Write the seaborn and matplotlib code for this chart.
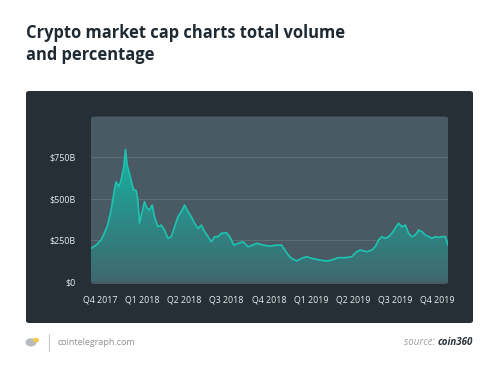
import numpy as np
import pandas as pd
import matplotlib.pyplot as plt
import seaborn as sns
from matplotlib.patches import FancyBboxPatch, Circle
from matplotlib.colors import LinearSegmentedColormap

# =========================
# DATA
# =========================

# x position in quarters, 0 = "Q4 2017" tick
quarter_pos = [
    -0.215, -0.096, 0.023, 0.102, 0.181, 0.261, 0.340, 0.380, 0.443, 0.498,
    0.562, 0.601, 0.641, 0.696, 0.752, 0.799, 0.855, 0.894, 0.934, 0.989,
    1.053, 1.108, 1.172, 1.235, 1.290, 1.370, 1.449, 1.528, 1.607, 1.687,
    1.766, 1.845, 1.924, 2.003, 2.083, 2.162, 2.241, 2.320, 2.400, 2.479,
    2.558, 2.637, 2.716, 2.796, 2.875, 2.994, 3.073, 3.168, 3.271, 3.390,
    3.509, 3.611, 3.707, 3.865, 4.023, 4.182, 4.301, 4.380, 4.459, 4.538,
    4.657, 4.776, 4.895, 5.014, 5.132, 5.291, 5.410, 5.529, 5.648, 5.806,
    5.964, 6.083, 6.163, 6.321, 6.440, 6.519, 6.598, 6.677, 6.756, 6.836,
    6.915, 6.994, 7.073, 7.152, 7.232, 7.311, 7.390, 7.470, 7.549, 7.628,
    7.707, 7.786, 7.866, 7.945, 8.024, 8.103, 8.182, 8.245,
]

# total market cap, billions of USD
market_cap = [
    200, 220, 250, 293, 341, 432, 553, 603, 572, 613,
    693, 798, 703, 653, 593, 553, 550, 492, 353, 413,
    482, 444, 432, 462, 391, 331, 341, 311, 261, 271,
    331, 391, 422, 462, 422, 391, 352, 321, 341, 301,
    271, 240, 271, 271, 291, 295, 271, 220, 231, 240,
    210, 220, 231, 220, 214, 220, 220, 190, 160, 140,
    124, 140, 150, 140, 134, 126, 124, 134, 144, 144,
    150, 180, 190, 180, 190, 210, 250, 271, 261, 271,
    291, 321, 352, 331, 341, 291, 271, 281, 311, 301,
    281, 271, 261, 271, 266, 271, 271, 220,
]

quarter_labels = ["Q4 2017", "Q1 2018", "Q2 2018", "Q3 2018", "Q4 2018",
                  "Q1 2019", "Q2 2019", "Q3 2019", "Q4 2019"]
y_ticks = [0, 250, 500, 750]
y_labels = ["$0", "$250B", "$500B", "$750B"]

df = pd.DataFrame({"quarter": quarter_pos, "cap": market_cap})

# =========================
# STYLE
# =========================

sns.set_theme(style="dark")
plt.rcParams["font.family"] = ["Open Sans", "DejaVu Sans"]

PANEL = "#252f35"
PLOT_BG = "#4a5a65"
LINE = "#1cc4b1"
TEXT = "#e8ecee"

fig = plt.figure(figsize=(5, 3.73), dpi=100)
fig.patch.set_facecolor("white")

# dark panel behind the chart
panel = FancyBboxPatch((0.052, 0.134), 0.894, 0.622,
                       boxstyle="round,pad=0,rounding_size=0.006",
                       transform=fig.transFigure, facecolor=PANEL,
                       edgecolor="none", zorder=-5)
fig.patches.append(panel)

ax = fig.add_axes([0.182, 0.2386, 0.714, 0.4491])
ax.set_zorder(2)
ax.set_facecolor("none")
ax.add_patch(FancyBboxPatch((0, 0), 1, 1,
                            boxstyle="round,pad=0,rounding_size=0.012",
                            transform=ax.transAxes, facecolor=PLOT_BG,
                            edgecolor="none", zorder=0, clip_on=False))

# grid lines
for v in y_ticks[1:]:
    ax.axhline(v, color="#5f6f7a", lw=0.7, zorder=1)

# gradient area under the curve
xmin, xmax = -0.215, 8.245
poly = ax.fill_between(df["quarter"], df["cap"], 0, color="none", lw=0)
cmap = LinearSegmentedColormap.from_list("g", ["#3f6870", "#2b8c87", "#14b5a3"])
grad = np.linspace(0, 1, 256).reshape(-1, 1)
im = ax.imshow(grad, extent=[xmin, xmax, 0, max(market_cap)], origin="lower",
               aspect="auto", cmap=cmap, zorder=2)
im.set_clip_path(poly.get_paths()[0], transform=ax.transData)

sns.lineplot(data=df, x="quarter", y="cap", color=LINE, lw=1.2, ax=ax, zorder=3)

ax.set_xlim(xmin, xmax)
ax.set_ylim(-15, 997)
ax.set_xticks(range(len(quarter_labels)))
ax.set_xticklabels(quarter_labels)
ax.set_yticks(y_ticks)
ax.set_yticklabels(y_labels)
ax.tick_params(axis="both", colors=TEXT, labelsize=6.4, length=0)
ax.tick_params(axis="y", pad=11)
ax.tick_params(axis="x", pad=8)
ax.set_xlabel("")
ax.set_ylabel("")
ax.grid(False)
for s in ax.spines.values():
    s.set_visible(False)

# =========================
# TITLE AND FOOTER
# =========================

fig.text(0.052, 0.898, "Crypto market cap charts total volume",
         fontsize=11.9, fontweight="bold", color="#1f2a32", va="baseline")
fig.text(0.052, 0.839, "and percentage",
         fontsize=11.9, fontweight="bold", color="#1f2a32", va="baseline")

fig.patches.append(Circle((0.062, 0.082), 0.011, transform=fig.transFigure,
                          facecolor="#b8bcc0", edgecolor="none"))
fig.patches.append(Circle((0.072, 0.088), 0.006, transform=fig.transFigure,
                          facecolor="#f2c744", edgecolor="none"))
fig.lines.append(plt.Line2D([0.098, 0.098], [0.06, 0.105],
                            transform=fig.transFigure, color="#c4c8cb", lw=0.8))
fig.text(0.116, 0.082, "cointelegraph.com", fontsize=6.5, color="#8a9095",
         va="center")
fig.text(0.874, 0.082, "source: ", fontsize=7, color="#9aa0a5",
         style="italic", va="center", ha="right")
fig.text(0.946, 0.082, "coin360", fontsize=7, color="#2a353c",
         style="italic", fontweight="bold", va="center", ha="right")

fig.savefig("out.png", dpi=100, facecolor="white")
plt.close(fig)
